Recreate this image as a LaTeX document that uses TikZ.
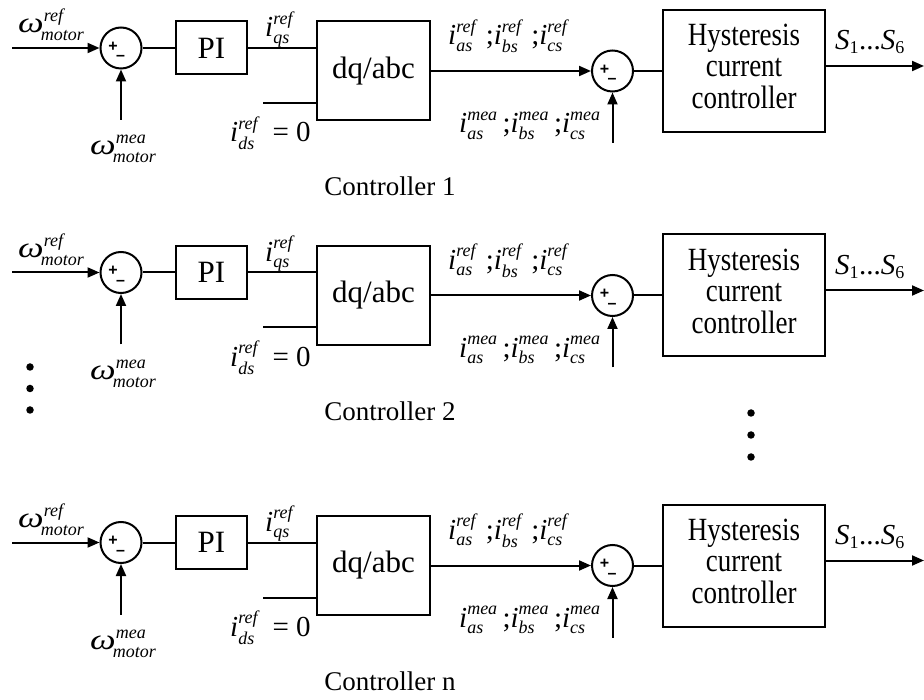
\documentclass[tikz,border=0pt]{standalone}
\usepackage{amsmath}
\usepackage{fontspec}
\setmainfont{Liberation Serif}
\newfontfamily\circsf{Liberation Sans}
\usetikzlibrary{arrows.meta}
\DeclareMathSizes{29}{29}{18}{13}
\newcommand\vlab[3]{$\textit{#1}^{\textit{#2}}_{\textit{#3}}$}
\newcommand\om{\scalebox{1.25}[1]{\textit{ω}}}
\newcommand\scr[1]{{\fontsize{18}{20}\selectfont\itshape #1}}
\newcommand\wlab[2]{$\om^{\raisebox{2pt}{\scr{#1}}}_{\!\raisebox{-1.5pt}{\scr{#2}}}$}
\newcommand\hyst{\scalebox{1}[1.2]{\fontsize{27}{26}\selectfont\setlength{\tabcolsep}{0pt}\begin{tabular}{c}Hysteresis\\current\\controller\end{tabular}}}
\begin{document}
\begin{tikzpicture}[x=1pt,y=-1pt,
  every node/.style={font=\fontsize{29}{33}\selectfont},
  lw/.style={line width=2pt},
  arr/.style={lw,-{Triangle[length=12pt,width=10pt]}},
  blk/.style={draw,lw,inner sep=0pt,align=center},
  circ/.style={circle,draw,lw,minimum size=41pt,inner sep=0pt},
  sgn/.style={font=\circsf\bfseries\fontsize{16}{16}\selectfont,inner sep=0pt},
  lab/.style={anchor=base west,inner sep=0pt},
  dot/.style={circle,fill,inner sep=0pt,minimum size=7.5pt}]
\useasboundingbox (0,0) rectangle (924,700);
\foreach \i/\y/\c in {1/48/1,2/272.5/2,3/542.5/n}{
  % blocks
  \node[circ] (s\i) at (121,\y) {};
  \node[blk,minimum width=71pt,minimum height=53pt,font=\fontsize{31}{35}\selectfont] (pi\i) at (211.5,\y) {PI};
  \node[blk,minimum width=113pt,minimum height=99pt,font=\fontsize{31}{35}\selectfont] (dq\i) at (373.5,\y+23) {dq/abc};
  \node[circ] (t\i) at (612.5,\y+23) {};
  \node[blk,minimum width=162pt,minimum height=122pt] (hy\i) at (744,\y+23) {\hyst};
  % signs
  \node[sgn] (sp\i) at (113,\y-1.5) {+};
  \node[sgn] (sm\i) at (120.5,\y+10) {–};
  \node[sgn] (tp\i) at (604.5,\y+21.5) {+};
  \node[sgn] (tm\i) at (612,\y+33) {–};
  % free ends
  \coordinate (in\i) at (12,\y);
  \coordinate (mb\i) at (121,\y+72);
  \coordinate (ds\i) at (263,\y+55);
  \coordinate (ib\i) at (612.5,\y+95);
  \coordinate (out\i) at (924,\y+18);
  % connectors
  \draw[arr] (in\i) -- (s\i.west);
  \draw[arr] (mb\i) -- (s\i.south);
  \draw[lw] (s\i.east) -- (pi\i.west);
  \draw[lw] (pi\i.east) -- (pi\i.east -| dq\i.west);
  \draw[lw] (ds\i) -- (ds\i -| dq\i.west);
  \draw[arr] (dq\i.east) -- (t\i.west);
  \draw[arr] (ib\i) -- (t\i.south);
  \draw[lw] (t\i.east) -- (hy\i.west);
  \draw[arr] (out\i -| hy\i.east) -- (out\i);
  % labels
  \node[lab] (wr\i) at (18,\y-15) {\wlab{ref}{motor}};
  \node[lab] (wm\i) at (90,\y+107) {\wlab{mea}{motor}};
  \node[lab] (iq\i) at (265,\y-11) {\vlab{i}{ref}{qs}};
  \node[lab] (id\i) at (230,\y+94) {\vlab{i}{ref}{ds}\ \ = 0};
  \node[lab] (ir\i) at (448,\y-3) {\vlab{i}{ref}{as}\,\,;\vlab{i}{ref}{bs}\,\,;\vlab{i}{ref}{cs}};
  \node[lab] (im\i) at (459,\y+85) {\vlab{i}{mea}{as}\,;\vlab{i}{mea}{bs}\,;\vlab{i}{mea}{cs}};
  \node[lab] (so\i) at (835,\y+2) {$\textit{S}_{\textup{1}}$...$\textit{S}_{\textup{6}}$};
  \node[anchor=base,inner sep=0pt,font=\fontsize{27}{31}\selectfont] (cl\i) at (390,\y+148) {Controller \c};
}
% continuation dots
\node[dot] (la) at (30,367) {};
\node[dot] (lb) at (30,388.5) {};
\node[dot] (lc) at (30,410) {};
\node[dot] (ra) at (751,413) {};
\node[dot] (rb) at (751,435) {};
\node[dot] (rc) at (751,457) {};
\end{tikzpicture}
\end{document}
